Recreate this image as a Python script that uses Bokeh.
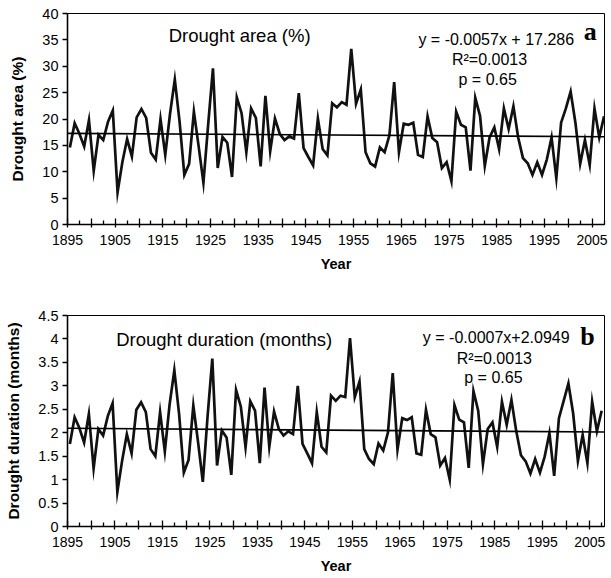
from bokeh.plotting import figure
from bokeh.layouts import column
from bokeh.models import Range1d, FixedTicker, Label, CustomJSTickFormatter
from bokeh.embed import file_html
from bokeh.resources import INLINE

# ---------------- data ----------------
years = list(range(1895, 2008))

drought_area = [
    14.6, 19.2, 17.2, 14.8, 19.8, 10.2, 17.0, 16.0, 19.5, 21.6,
    6.1, 11.8, 16.2, 12.9, 20.3, 21.9, 20.2, 13.6, 12.3, 20.0,
    13.2, 21.0, 27.5, 19.5, 9.4, 11.5, 21.4, 14.8, 7.9, 19.0,
    29.6, 10.7, 16.6, 15.5, 9.0, 24.1, 21.1, 13.7, 22.0, 20.2,
    11.0, 24.4, 13.9, 20.1, 17.2, 16.0, 16.7, 16.3, 24.9, 14.5,
    12.8, 11.2, 20.1, 14.3, 13.1, 23.0, 22.2, 23.2, 22.7, 33.3,
    22.9, 25.6, 13.7, 11.6, 11.0, 14.6, 13.7, 16.9, 27.0, 13.7,
    19.1, 18.9, 19.3, 13.2, 12.8, 20.5, 16.4, 15.6, 10.7, 11.8,
    8.2, 21.4, 18.9, 18.4, 10.2, 24.0, 20.6, 11.1, 16.5, 18.4,
    14.3, 22.0, 18.1, 22.4, 16.5, 12.6, 11.6, 9.4, 11.8, 9.4,
    12.3, 16.5, 8.8, 19.3, 22.0, 25.2, 19.3, 11.5, 16.0, 11.3,
    22.0, 16.5, 20.5,
]

drought_duration = [
    1.76, 2.33, 2.10, 1.79, 2.40, 1.24, 2.08, 1.94, 2.36, 2.63,
    0.74, 1.40, 1.97, 1.56, 2.49, 2.65, 2.44, 1.65, 1.50, 2.44,
    1.60, 2.60, 3.33, 2.40, 1.15, 1.42, 2.58, 1.80, 0.95, 2.35,
    3.58, 1.30, 2.05, 1.90, 1.10, 2.91, 2.56, 1.69, 2.67, 2.47,
    1.35, 2.96, 1.70, 2.45, 2.08, 1.94, 2.03, 1.97, 3.00, 1.76,
    1.56, 1.35, 2.44, 1.70, 1.58, 2.79, 2.68, 2.79, 2.76, 4.02,
    2.76, 3.09, 1.65, 1.44, 1.33, 1.77, 1.62, 2.01, 3.27, 1.64,
    2.31, 2.27, 2.33, 1.56, 1.53, 2.49, 1.97, 1.90, 1.30, 1.46,
    1.00, 2.59, 2.28, 2.22, 1.25, 2.89, 2.47, 1.33, 2.08, 2.22,
    1.70, 2.66, 2.17, 2.70, 2.04, 1.52, 1.39, 1.13, 1.44, 1.15,
    1.49, 1.99, 1.08, 2.31, 2.68, 3.05, 2.41, 1.40, 1.95, 1.35,
    2.66, 2.03, 2.47,
]

# trend line coefficients as printed on the chart (x = 1..n)
slope_a, intercept_a = -0.0057, 17.286
slope_b, intercept_b = -0.0007, 2.0949

major_years = list(range(1895, 2006, 5))
minor_years = [1897.5 + 5 * k for k in range(23)]
label_years = list(range(1895, 2006, 10))

FONT = "Liberation Sans"


def make_panel(values, slope, intercept, x_end, y_max, y_step, height,
               top, bottom, right, ylabel, title, eq, letter, pos, int_fmt):
    p = figure(width=611, height=height, output_backend="svg", toolbar_location=None,
               x_range=Range1d(1895, x_end), y_range=Range1d(0, y_max))
    p.min_border_left = 67
    p.min_border_right = right
    p.min_border_top = top
    p.min_border_bottom = bottom
    p.background_fill_color = "white"
    p.border_fill_color = "white"
    p.outline_line_color = "black"
    p.outline_line_width = 1
    p.xgrid.visible = False
    p.ygrid.visible = False

    xs = [y + 0.5 for y in years]
    p.line(xs, values, line_color="#111111", line_width=2.7, line_join="miter")

    # trend line from printed equation (x index 1 at first year)
    tx = [1895, x_end]
    ty = [slope * (t - 1894.5) + intercept for t in tx]
    p.line(tx, ty, line_color="black", line_width=1.6)

    xa = p.xaxis[0]
    xa.ticker = FixedTicker(ticks=major_years, minor_ticks=minor_years)
    xa.major_label_overrides = {y: "" for y in major_years if y not in label_years}
    xa.axis_line_width = 1.6
    xa.axis_line_color = "black"
    xa.major_tick_in = 6
    xa.major_tick_out = 3
    xa.minor_tick_in = 4
    xa.minor_tick_out = 0
    xa.major_tick_line_width = 1.3
    xa.minor_tick_line_width = 1.3
    xa.major_tick_line_color = "black"
    xa.minor_tick_line_color = "black"
    xa.major_label_text_font = FONT
    xa.major_label_text_font_size = "14px"
    xa.major_label_text_color = "black"
    xa.major_label_standoff = 7
    xa.axis_label = "Year"
    xa.axis_label_text_font = FONT
    xa.axis_label_text_font_style = "bold"
    xa.axis_label_text_font_size = "14.5px"
    xa.axis_label_text_color = "black"
    xa.axis_label_standoff = 8

    ya = p.yaxis[0]
    ya.ticker = FixedTicker(ticks=[y_step * k for k in range(int(round(y_max / y_step)) + 1)])
    if int_fmt:
        ya.formatter = CustomJSTickFormatter(code="return (Math.round(tick*10)/10).toString();")
    ya.axis_line_width = 1.6
    ya.axis_line_color = "black"
    ya.major_tick_in = 0
    ya.major_tick_out = 5
    ya.minor_tick_in = 0
    ya.minor_tick_out = 0
    ya.major_tick_line_width = 1.3
    ya.major_tick_line_color = "black"
    ya.major_label_text_font = FONT
    ya.major_label_text_font_size = "14.5px"
    ya.major_label_text_color = "black"
    ya.major_label_standoff = 4
    ya.axis_label = ylabel
    ya.axis_label_text_font = FONT
    ya.axis_label_text_font_style = "bold"
    ya.axis_label_text_font_size = "15.5px"
    ya.axis_label_text_color = "black"
    ya.axis_label_standoff = 13

    (tx0, ty0), (ex, ey), (rx, ry), (px, py), (lx, ly) = pos
    p.add_layout(Label(x=tx0, y=ty0, text=title, text_font=FONT, text_font_size="18.5px",
                       text_align="center", text_baseline="middle", text_color="black"))
    p.add_layout(Label(x=ex, y=ey, text=eq, text_font=FONT, text_font_size="16px",
                       text_align="center", text_baseline="middle", text_color="black"))
    p.add_layout(Label(x=rx, y=ry, text="R\u00b2=0.0013", text_font=FONT, text_font_size="16px",
                       text_align="center", text_baseline="middle", text_color="black"))
    p.add_layout(Label(x=px, y=py, text="p = 0.65", text_font=FONT, text_font_size="16px",
                       text_align="center", text_baseline="middle", text_color="black"))
    p.add_layout(Label(x=lx, y=ly, text=letter, text_font="Liberation Serif",
                       text_font_style="bold", text_font_size="26px",
                       text_align="center", text_baseline="middle", text_color="black"))
    return p


p1 = make_panel(drought_area, slope_a, intercept_a, 2007.6, 40, 5, 300,
                13, 76, 5, "Drought area (%)", "Drought area (%)",
                "y = -0.0057x + 17.286", "a",
                [(1931.1, 35.8), (1984.9, 35.0), (1983.5, 31.2), (1983.1, 27.5), (2004.6, 36.6)],
                False)
p2 = make_panel(drought_duration, slope_b, intercept_b, 2008.1, 4.5, 0.5, 278,
                15, 52, 7, "Drought duration (months)", "Drought duration (months)",
                "y = -0.0007x+2.0949", "b",
                [(1928.0, 3.98), (1985.3, 4.03), (1984.9, 3.58), (1984.7, 3.17), (2004.5, 4.05)],
                True)

layout = column(p1, p2, spacing=0)
open("out.html", "w").write(file_html(layout, INLINE))
